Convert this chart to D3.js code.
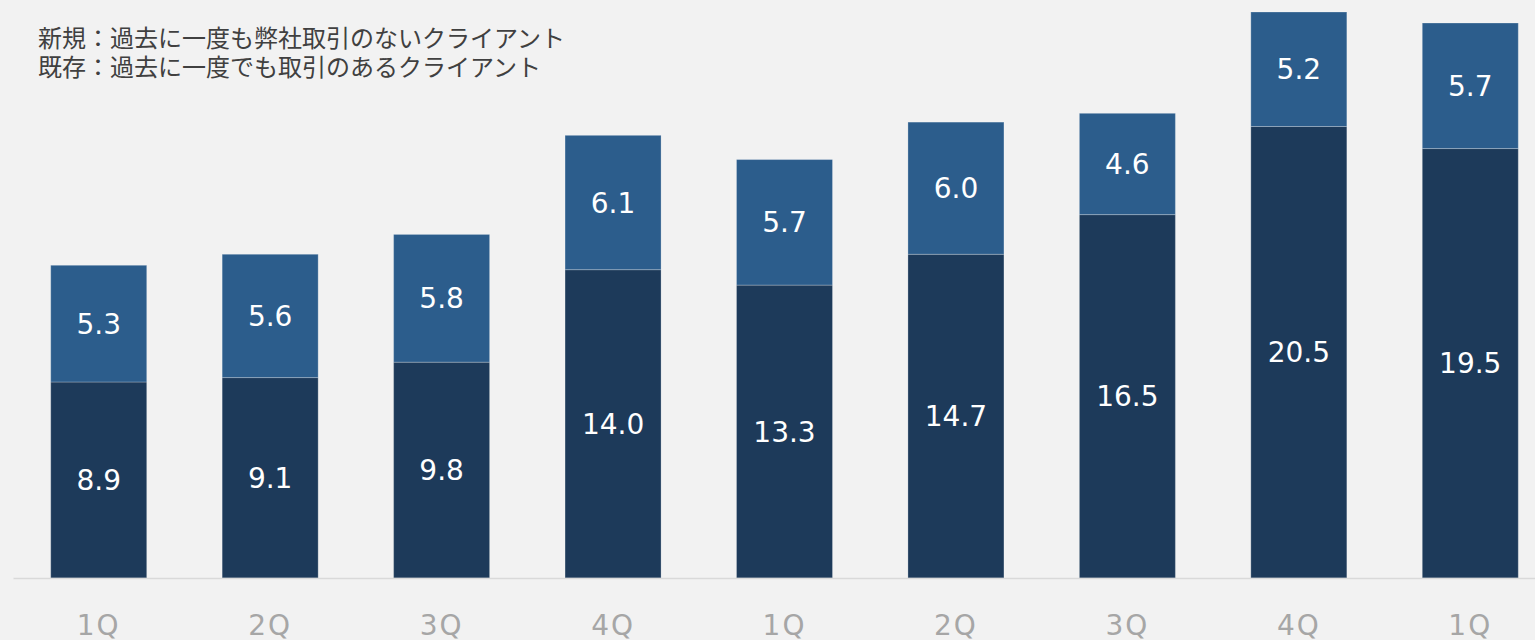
<!DOCTYPE html>
<html>
<head>
<meta charset="utf-8">
<script src="https://cdn.jsdelivr.net/npm/d3@7"></script>
<style>
  html, body { margin: 0; padding: 0; background: #f2f2f2; }
  svg { display: block; }
  .value { fill: #ffffff; font-family: "DejaVu Sans", Verdana, sans-serif; font-size: 28px; }
  .tick text { fill: #a6a6a6; font-family: "DejaVu Sans", Verdana, sans-serif; font-size: 28px; letter-spacing: 2px; }
  .note { fill: #404040; font-family: "Noto Sans CJK JP", sans-serif; font-size: 24px; }
</style>
</head>
<body>
<div id="chart"></div>
<script>
// Quarters (two fiscal years + 1Q)
const categories = ["1Q", "2Q", "3Q", "4Q", "1Q", "2Q", "3Q", "4Q", "1Q"];
// 既存 (existing clients) - bottom segment
const existing = [8.9, 9.1, 9.8, 14.0, 13.3, 14.7, 16.5, 20.5, 19.5];
// 新規 (new clients) - top segment
const newClients = [5.3, 5.6, 5.8, 6.1, 5.7, 6.0, 4.6, 5.2, 5.7];
const notes = [
  "新規：過去に一度も弊社取引のないクライアント",
  "既存：過去に一度でも取引のあるクライアント",
];

const width = 1535;
const height = 640;
const margin = { top: 12, right: -21, bottom: 62, left: 13 };

const data = categories.map((c, i) => ({
  key: i,
  label: c,
  existing: existing[i],
  newClients: newClients[i],
}));

const series = d3.stack().keys(["existing", "newClients"])(data);
const colors = { existing: "#1d3a5a", newClients: "#2c5d8c" };

const x = d3
  .scaleBand()
  .domain(data.map((d) => d.key))
  .range([margin.left, width - margin.right])
  .paddingInner(0.44)
  .paddingOuter(0.22);

const y = d3
  .scaleLinear()
  .domain([0, 25.7])
  .range([height - margin.bottom, margin.top]);

const svg = d3
  .select("#chart")
  .append("svg")
  .attr("width", width)
  .attr("height", height);

svg.append("rect").attr("width", width).attr("height", height).attr("fill", "#f2f2f2");

// Bars
const gLayer = svg
  .selectAll(".layer")
  .data(series)
  .join("g")
  .attr("class", "layer")
  .attr("fill", (s) => colors[s.key]);

gLayer
  .selectAll("rect")
  .data((s) => s)
  .join("rect")
  .attr("x", (d) => x(d.data.key))
  .attr("width", x.bandwidth())
  .attr("y", (d) => y(d[1]))
  .attr("height", (d) => y(d[0]) - y(d[1]))
  .attr("stroke", "rgba(255,255,255,0.25)")
  .attr("stroke-width", 1);

// Value labels
gLayer
  .selectAll(".value")
  .data((s) => s)
  .join("text")
  .attr("class", "value")
  .attr("text-anchor", "middle")
  .attr("dy", "0.36em")
  .attr("x", (d) => x(d.data.key) + x.bandwidth() / 2)
  .attr("y", (d) => (y(d[0]) + y(d[1])) / 2)
  .text((d) => (d[1] - d[0]).toFixed(1));

// X axis
const gX = svg
  .append("g")
  .attr("transform", `translate(0,${height - margin.bottom})`)
  .call(d3.axisBottom(x).tickSize(0).tickPadding(37).tickFormat((k) => categories[k]));
gX.select(".domain").attr("stroke", "#d9d9d9").attr("stroke-width", 1.5);

// Notes
svg
  .selectAll(".note")
  .data(notes)
  .join("text")
  .attr("class", "note")
  .attr("x", 38)
  .attr("y", (d, i) => 47 + i * 29)
  .text((d) => d);
</script>
</body>
</html>
